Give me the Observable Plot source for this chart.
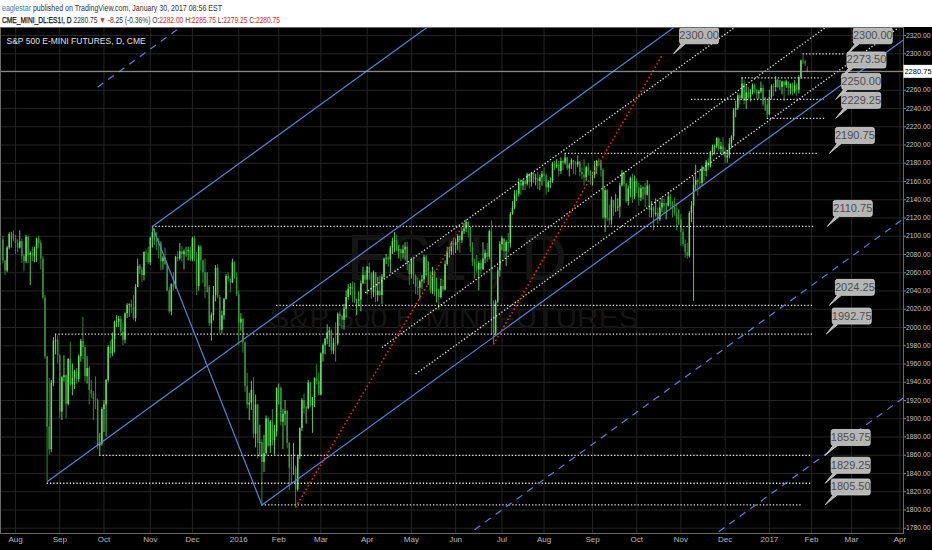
<!DOCTYPE html>
<html>
<head>
<meta charset="utf-8">
<script src="https://cdn.jsdelivr.net/npm/d3@7"></script>
<script src="https://cdn.jsdelivr.net/npm/@observablehq/plot@0.6"></script>
<style>
  body { margin: 0; background: #fff; width: 932px; height: 550px; overflow: hidden; }
  #head {
    height: 27px; box-sizing: border-box; padding: 2px 0 0 2px; white-space: nowrap;
    font-family: 'Liberation Sans', Arial, sans-serif; font-size: 8.5px; line-height: 12px; color: #333;
  }
  #head div { width: max-content; transform-origin: 0 0; }
  #head .who { color: #2f7bc5; }
  #head .red { color: #d9262b; }
  #head .sym { color: #111; -webkit-text-stroke: 0.25px #111; }
  #chart svg { display: block; }
</style>
</head>
<body>
<div id="head"><div id="line1"></div><div id="line2"></div></div>
<div id="chart"></div>
<script>
// ES1! daily bars, [open, high, low, close]
const jul2015 = [[2096,2100,2070,2073],[2073,2073,2057,2062],[2062,2089,2060,2087],[2087,2104,2085,2102],[2102,2104,2087,2102],[2102,2106,2094,2097]];
const aug2015 = [[2097,2101,2080,2092],[2092,2096,2082,2087],[2087,2106,2086,2094],[2094,2097,2070,2078],[2078,2080,2061,2072],
  [2072,2101,2070,2099],[2099,2100,2070,2079],[2079,2083,2046,2081],[2081,2088,2072,2078],[2078,2088,2071,2086],
  [2086,2098,2071,2097],[2097,2100,2087,2092],[2092,2095,2063,2075],[2075,2078,2030,2032],[2032,2035,1965,1968],
  [1968,1968,1831,1891],[1891,1944,1860,1866],[1866,1942,1863,1939],[1939,1989,1935,1985],[1985,1992,1970,1986],[1986,1991,1960,1969]];
const sep2015 = [[1969,1970,1900,1907],[1907,1946,1898,1945],[1945,1969,1940,1947],[1947,1948,1900,1916],
  [1916,1966,1914,1965],[1965,1984,1935,1937],[1937,1960,1925,1944],[1944,1953,1932,1951],
  [1951,1955,1938,1943],[1943,1970,1940,1968],[1968,1987,1962,1985],[1985,2011,1965,1978],[1978,1980,1940,1946],
  [1946,1968,1938,1955],[1955,1957,1915,1931],[1931,1942,1922,1927],[1927,1930,1898,1921],[1921,1946,1910,1920],
  [1920,1922,1866,1870],[1870,1884,1860,1872],[1872,1912,1870,1910]];
const oct2015 = [[1910,1920,1885,1915],[1915,1943,1880,1942],
  [1942,1980,1940,1978],[1978,1985,1966,1971],[1971,1994,1968,1987],[1987,2007,1972,2005],[2005,2013,2000,2006],
  [2006,2012,2000,2009],[2009,2012,1990,1995],[1995,2005,1980,1986],[1986,2016,1982,2015],[2015,2026,2010,2024],
  [2024,2026,2011,2025],[2025,2030,2015,2022],[2022,2035,2008,2010],[2010,2047,2006,2044],[2044,2075,2044,2067],
  [2067,2069,2058,2063],[2063,2066,2049,2057],[2057,2083,2051,2082],[2082,2085,2071,2081],[2081,2088,2069,2071]];
const nov2015 = [[2071,2099,2068,2098],[2098,2110.75,2087,2104],[2104,2108,2090,2096],[2096,2104,2084,2094],[2094,2098,2075,2093],
  [2093,2094,2062,2072],[2072,2078,2063,2076],[2076,2087,2068,2069],[2069,2070,2039,2040],[2040,2044,2015,2017],
  [2017,2048,2013,2047],[2047,2060,2040,2044],[2044,2078,2042,2077],[2077,2083,2072,2075],[2075,2092,2073,2083],
  [2083,2089,2072,2080],[2080,2085,2063,2083],[2083,2088,2077,2083],[2083,2088,2073,2084],[2084,2088,2072,2074]];
const dec2015 = [[2074,2099,2072,2097],[2097,2100,2072,2075],[2075,2082,2035,2045],[2045,2090,2040,2088],
  [2088,2090,2062,2073],[2073,2074,2048,2060],[2060,2075,2032,2044],[2044,2060,2038,2044],[2044,2046,2001,2004],
  [2004,2016,1985,2013],[2013,2045,2007,2035],[2035,2068,2028,2065],[2065,2069,2031,2033],[2033,2035,1993,1997],
  [1997,2018,1993,2013],[2013,2032,2008,2031],[2031,2058,2030,2056],[2056,2060,2050,2053],
  [2053,2053,2038,2049],[2049,2075,2048,2071],[2071,2072,2053,2055],[2055,2060,2034,2036]];
const jan2016 = [[2036,2040,1980,2005],[2005,2015,1996,2009],[2009,2010,1972,1983],[1983,1984,1929,1935],[1935,1950,1911,1915],
  [1915,1928,1898,1917],[1917,1941,1909,1931],[1931,1945,1878,1883],[1883,1926,1868,1915],[1915,1916,1856,1873],
  [1873,1893,1858,1874],[1874,1877,1804.5,1852],[1852,1882,1841,1862],[1862,1903,1860,1900],
  [1900,1901,1868,1870],[1870,1898,1862,1896],[1896,1910,1870,1876],[1876,1893,1860,1886],[1886,1934,1880,1933]];
const feb2016 = [[1933,1938,1915,1933],[1933,1935,1892,1896],[1896,1910,1866,1905],[1905,1920,1892,1908],[1908,1909,1867,1873],
  [1873,1874,1821,1846],[1846,1858,1828,1845],[1845,1873,1838,1845],[1845,1848,1802,1822],[1822,1860,1820,1858],
  [1858,1890,1855,1889],[1889,1922,1886,1920],[1920,1927,1905,1911],[1911,1913,1894,1911],
  [1911,1942,1910,1939],[1939,1940,1912,1914],[1914,1923,1884,1923],[1923,1945,1912,1944],[1944,1959,1937,1941],[1941,1950,1925,1926]];
const mar2016 = [[1926,1972,1925,1971],[1971,1982,1962,1980],[1980,1988,1970,1987],[1987,2003,1981,1994],
  [1994,2000,1978,1996],[1996,1998,1970,1974],[1974,1988,1970,1983],[1983,2005,1962,1982],[1982,2016,1980,2014],
  [2014,2017,2001,2012],[2012,2013,1998,2008],[2008,2025,1997,2020],[2020,2040,2010,2033],[2033,2047,2030,2042],
  [2042,2048,2035,2044],[2044,2050,2027,2042],[2042,2049,2026,2029],[2029,2031,2013,2029],
  [2029,2039,2023,2030],[2030,2051,2017,2048],[2048,2066,2047,2057],[2057,2062,2047,2052]];
const apr2016 = [[2052,2067,2036,2066],
  [2066,2070,2052,2059],[2059,2060,2031,2038],[2038,2062,2033,2060],[2060,2060,2027,2035],[2035,2055,2028,2040],
  [2040,2056,2034,2035],[2035,2058,2025,2055],[2055,2076,2053,2075],[2075,2080,2069,2076],[2076,2078,2066,2074],
  [2074,2089,2059,2087],[2087,2098,2080,2094],[2094,2104,2082,2095],[2095,2101,2083,2084],[2084,2090,2075,2085],
  [2085,2086,2072,2081],[2081,2090,2075,2085],[2085,2093,2073,2088],[2088,2093,2062,2069],[2069,2071,2046,2058]];
const may2016 = [[2058,2076,2053,2074],[2074,2075,2047,2056],[2056,2058,2036,2044],[2044,2054,2035,2043],[2043,2052,2030,2050],
  [2050,2057,2042,2052],[2052,2079,2048,2077],[2077,2079,2055,2057],[2057,2072,2046,2057],[2057,2061,2037,2040],
  [2040,2066,2036,2060],[2060,2062,2034,2040],[2040,2054,2027,2041],[2041,2042,2019,2033],[2033,2053,2031,2045],
  [2045,2052,2039,2041],[2041,2073,2040,2069],[2069,2088,2067,2083],[2083,2088,2076,2083],[2083,2094,2079,2092],
  [2092,2098,2079,2090]];
const jun2016 = [[2090,2097,2081,2093],[2093,2101,2084,2100],[2100,2101,2081,2095],
  [2095,2108,2092,2105],[2105,2114,2102,2108],[2108,2118,2104,2115],[2115,2116,2098,2110],[2110,2111,2082,2088],
  [2088,2093,2067,2071],[2071,2075,2053,2067],[2067,2079,2059,2063],[2063,2072,2040,2070],[2070,2074,2058,2063],
  [2063,2093,2063,2075],[2075,2085,2070,2081],[2081,2092,2071,2077],[2077,2107,2074,2105],[2105,2117,1991,2025],
  [2025,2029,1981,1993],[1993,2030,1990,2028],[2028,2066,2026,2062],[2062,2094,2055,2091]];
const jul2016 = [[2091,2100,2084,2097],
  [2097,2097,2075,2083],[2083,2095,2067,2093],[2093,2103,2082,2092],[2092,2126,2087,2124],
  [2124,2138,2123,2131],[2131,2150,2129,2146],[2146,2150,2138,2146],[2146,2163,2143,2158],[2158,2162,2145,2155],
  [2155,2162,2150,2160],[2160,2161,2150,2157],[2157,2169,2155,2167],[2167,2169,2152,2159],[2159,2170,2154,2169],
  [2169,2170,2158,2162],[2162,2168,2155,2163],[2163,2170,2151,2160],[2160,2167,2150,2164],[2164,2171,2155,2168]];
const aug2016 = [[2168,2175,2160,2166],[2166,2168,2145,2153],[2153,2161,2148,2159],[2159,2164,2152,2160],[2160,2181,2158,2179],
  [2179,2182,2172,2176],[2176,2184,2174,2178],[2178,2182,2165,2171],[2171,2186,2168,2182],[2182,2183,2172,2180],
  [2180,2190.75,2178,2186],[2186,2186,2172,2174],[2174,2180,2165,2178],[2178,2185,2173,2183],[2183,2183,2168,2180],
  [2180,2182,2167,2178],[2178,2188,2175,2181],[2181,2182,2165,2170],[2170,2175,2162,2167],[2167,2184,2155,2164],
  [2164,2177,2160,2175],[2175,2180,2166,2171],[2171,2172,2156,2166]];
const sep2016 = [[2166,2170,2155,2167],[2167,2182,2163,2176],
  [2176,2183,2168,2182],[2182,2185,2176,2181],[2181,2183,2165,2172],[2172,2174,2118,2120],
  [2120,2152,2104,2150],[2150,2151,2116,2119],[2119,2134,2112,2117],[2117,2143,2112,2139],[2139,2139,2122,2131],
  [2131,2146,2126,2131],[2131,2141,2127,2132],[2132,2158,2120,2155],[2155,2172,2154,2169],[2169,2170,2154,2157],
  [2157,2158,2136,2138],[2138,2155,2133,2152],[2152,2165,2142,2163],[2163,2168,2136,2143],[2143,2166,2140,2160]];
const oct2016 = [[2160,2163,2147,2153],[2153,2158,2133,2142],[2142,2156,2138,2152],[2152,2154,2140,2153],[2153,2158,2131,2145],
  [2145,2161,2144,2155],[2155,2157,2120,2128],[2128,2138,2120,2131],[2131,2133,2106,2124],[2124,2141,2121,2125],
  [2125,2131,2113,2118],[2118,2138,2116,2131],[2131,2142,2126,2136],[2136,2141,2124,2133],[2133,2136,2118,2133],
  [2133,2148,2132,2143],[2143,2146,2130,2135],[2135,2138,2120,2131],[2131,2142,2122,2125],[2125,2136,2106,2118],
  [2118,2129,2112,2118]];
const nov2016 = [[2118,2124,2089,2104],[2104,2108,2088,2091],[2091,2096,2076,2082],[2082,2092,2075,2078],
  [2078,2127,2076,2125],[2125,2138,2115,2133],[2133,2165,2028.5,2156],[2156,2178,2150,2161],[2161,2163,2144,2159],
  [2159,2172,2151,2158],[2158,2177,2155,2174],[2174,2176,2160,2171],[2171,2183,2165,2181],[2181,2185,2172,2176],
  [2176,2193,2175,2192],[2192,2200,2188,2197],[2197,2200,2189,2198],[2198,2208,2196,2207],
  [2207,2208,2193,2195],[2195,2203,2190,2198],[2198,2208,2189,2192]];
const dec2016 = [[2192,2197,2180,2186],[2186,2194,2180,2188],
  [2188,2207,2185,2201],[2201,2210,2196,2209],[2209,2240,2205,2238],[2238,2248,2230,2240],[2240,2256,2238,2254],
  [2254,2256,2244,2251],[2251,2273.5,2250,2267],[2267,2271,2244,2248],[2248,2266,2239,2257],[2257,2263,2250,2252],
  [2252,2261,2247,2257],[2257,2267,2255,2265],[2265,2267,2256,2260],[2260,2261,2250,2256],[2256,2260,2250,2258],
  [2258,2269,2256,2262],[2262,2266,2242,2244],[2244,2252,2237,2244],[2244,2250,2229.25,2233]];
const jan2017 = [[2233,2260,2232,2252],[2252,2266,2250,2264],[2264,2267,2253,2263],[2263,2275,2258,2271],
  [2271,2272,2262,2263],[2263,2271,2260,2263],[2263,2270,2255,2269],[2269,2270,2248,2265],[2265,2271,2262,2269],
  [2269,2269,2254,2262],[2262,2267,2255,2266],[2266,2268,2254,2258],[2258,2271,2256,2265],
  [2265,2267,2253,2260],[2260,2276,2256,2274],[2274,2293,2272,2292],[2292,2298,2288,2291],[2291,2293,2286,2289],
  [2282,2285.75,2279.25,2280.75]];

// month label shown where each month's first bar sits
const monthly = [
  [null, jul2015], ["Aug", aug2015], ["Sep", sep2015], ["Oct", oct2015], ["Nov", nov2015], ["Dec", dec2015],
  ["2016", jan2016], ["Feb", feb2016], ["Mar", mar2016], ["Apr", apr2016], ["May", may2016], ["Jun", jun2016],
  ["Jul", jul2016], ["Aug", aug2016], ["Sep", sep2016], ["Oct", oct2016], ["Nov", nov2016], ["Dec", dec2016],
  ["2017", jan2017]
];
// empty space on the right: trading days until each later month label
const ahead = [["Feb", 1], ["Mar", 19], ["Apr", 23]];

const priceTicks = d3.range(1780, 2321, 20);

// horizontal dotted levels and their callouts (bar index where they start / end / point)
const levelPrices = [2300, 2273.5, 2250, 2229.25, 2190.75, 2110.75, 2024.25, 1992.75, 1859.75, 1829.25, 1805.5];
const levelFrom   = [380, 351, 327, 363, 267, 71, 130, 25, 46, 21, 123];
const levelTo     = [400, 389, 390, 391, 387, 386, 384.5, 385, 384.5, 384, 380];
const calloutAt   = [401, 398, 395.5, 395.5, 392.5, 391.5, 392.5, 391, 390.5, 390.5, 390.5];
const extraCallout = [[318.5, 2300]];

// pitchfork pivots [bar, price]: handle, upper, lower
const forkPivots = [[21, 1831], [71, 2110.75], [123, 1805.5]];
// other trend lines [bar1, price1, bar2, price2]
const whiteLines = [[172, 2038, 350, 2333], [180, 1978, 392, 2331], [196, 1949, 425, 2328]];
const redLines = [[139, 1803, 220, 2118], [233, 1981.5, 313, 2298]];

// ---- build tables ----
const bars = [];
const monthTicks = [];
for (const [label, rows] of monthly) {
  if (label) monthTicks.push({i: bars.length, label});
  for (const [o, h, l, c] of rows) bars.push({i: bars.length, o, h, l, c});
}
let n = bars.length;
for (const [label, days] of ahead) { n += days; monthTicks.push({i: n, label}); }
const tickLabel = new Map(monthTicks.map(d => [d.i, d.label]));

const levels = levelPrices.map((p, k) => ({p, from: levelFrom[k], to: levelTo[k]}));
const callouts = levelPrices.map((p, k) => ({i: calloutAt[k], p}))
  .concat(extraCallout.map(([i, p]) => ({i, p})));

const [C, A, B] = forkPivots;
const M = [(A[0] + B[0]) / 2, (A[1] + B[1]) / 2];
const slope = (M[1] - C[1]) / (M[0] - C[0]);
const far = 440;
const ray = (p) => ({x1: p[0], y1: p[1], x2: far, y2: p[1] + slope * (far - p[0])});
const forkSolid = [ray(C), ray(A), ray(B), {x1: A[0], y1: A[1], x2: B[0], y2: B[1]}];
const step = [A[0] - M[0], A[1] - M[1]];
const forkDashed = [
  ray([A[0] + step[0], A[1] + step[1]]),
  ray([B[0] - step[0], B[1] - step[1]]),
  ray([B[0] - 2 * step[0], B[1] - 2 * step[1]])
];
const toLink = ([x1, y1, x2, y2]) => ({x1, y1, x2, y2});

const last = bars[bars.length - 1], prev = bars[bars.length - 2];
// the price tag hides the tick label under it
const labelTicks = priceTicks.filter(t => Math.abs(t - last.c) > 8);

// ---- header ----
const chg = last.c - prev.c;
document.getElementById("line1").innerHTML =
  `<span class="who">eaglestar</span> published on TradingView.com, January 30, 2017 08:56 EST`;
document.getElementById("line2").innerHTML =
  `<span class="sym">CME_MINI_DL:ES1!, D</span> ${last.c.toFixed(2)} <span class="red">▼</span> ${chg.toFixed(2)} (${(chg / prev.c * 100).toFixed(2)}%) ` +
  `O:<span class="red">${last.o.toFixed(2)}</span> H:<span class="red">${last.h.toFixed(2)}</span> ` +
  `L:<span class="red">${last.l.toFixed(2)}</span> C:<span class="red">${last.c.toFixed(2)}</span>`;
[["line1", 220], ["line2", 278]].forEach(([id, w]) => {
  const el = document.getElementById(id);
  el.style.transform = `scaleX(${w / el.getBoundingClientRect().width})`;
});

// ---- shapes ----
const calloutShape = {
  draw(ctx) {
    const x0 = 6, x1 = 45, y0 = -26, y1 = -10, r = 2;
    ctx.moveTo(0, 0);
    ctx.lineTo(12, y1);
    ctx.lineTo(x1 - r, y1); ctx.arcTo(x1, y1, x1, y1 - r, r);
    ctx.lineTo(x1, y0 + r); ctx.arcTo(x1, y0, x1 - r, y0, r);
    ctx.lineTo(x0 + r, y0); ctx.arcTo(x0, y0, x0, y0 + r, r);
    ctx.lineTo(x0, y1 - r); ctx.arcTo(x0, y1, x0 + r, y1, r);
    ctx.closePath();
  }
};
const priceTag = { draw(ctx) { ctx.rect(0, -6.5, 29, 13); } };

const up = "#5fe25a", down = "#2e9a34", blue = "#5486d3";

const chart = Plot.plot({
  width: 932,
  height: 523,
  marginLeft: 0,
  marginRight: 29,
  marginTop: 0,
  marginBottom: 17,
  style: {background: "#000", color: "#bcbcbc", fontFamily: "'Liberation Sans', Arial, sans-serif"},
  x: {domain: [-1.14, 427.7], axis: null},
  y: {domain: [1774.2, 2328.8], axis: null},
  marks: [
    Plot.gridX(monthTicks.map(d => d.i), {stroke: "#242424", strokeOpacity: 1}),
    Plot.gridY(priceTicks, {stroke: "#242424", strokeOpacity: 1}),
    Plot.text(["ES1!, D"], {text: d => d, frameAnchor: "middle", dx: 5, dy: -21, fontSize: 64, fill: "#151515", ariaLabel: "mark1"}),
    Plot.text(["S&P 500 E-MINI FUTURES"], {text: d => d, frameAnchor: "middle", dx: 2, dy: 38, fontSize: 30, fill: "#151515", ariaLabel: "mark2"}),
    Plot.text(["S&P 500 E-MINI FUTURES, D, CME"], {text: d => d, frameAnchor: "top-left", dx: 6, dy: 10, fontSize: 8.5, fill: "#e2e2e2", ariaLabel: "title"}),

    // candles
    Plot.ruleX(bars, {x: "i", y1: "l", y2: "h", stroke: d => d.c >= d.o ? up : down, strokeWidth: 0.9}),
    Plot.ruleX(bars, {x: "i", y1: "o", y2: "c", stroke: d => d.c >= d.o ? up : down, strokeWidth: 1.5}),

    // drawings
    Plot.ruleY(levels, {y: "p", x1: "from", x2: "to", stroke: "#e6e6e6", strokeWidth: 1.3, strokeDasharray: "1.3 2"}),
    Plot.link(forkSolid, {x1: "x1", y1: "y1", x2: "x2", y2: "y2", stroke: blue, strokeWidth: 1.2, clip: true}),
    Plot.link(forkDashed, {x1: "x1", y1: "y1", x2: "x2", y2: "y2", stroke: blue, strokeWidth: 1.2, strokeDasharray: "7 6", clip: true}),
    Plot.link(whiteLines.map(toLink), {x1: "x1", y1: "y1", x2: "x2", y2: "y2", stroke: "#e6e6e6", strokeWidth: 1.3, strokeDasharray: "1.3 2", clip: true}),
    Plot.link(redLines.map(toLink), {x1: "x1", y1: "y1", x2: "x2", y2: "y2", stroke: "#e02828", strokeWidth: 1.6, strokeDasharray: "1.6 2.4", clip: true}),
    Plot.ruleY([last.c], {stroke: "#a0a0a0", strokeWidth: 1}),

    Plot.dot(callouts, {x: "i", y: "p", symbol: calloutShape, fill: "#b6b6b6", stroke: "#d2d2d2", strokeWidth: 0.8}),
    Plot.text(callouts, {x: "i", y: "p", text: d => d.p.toFixed(2), dx: 25.5, dy: -18, fontSize: 11, fill: "#4d4d4d", ariaLabel: "callout"}),

    // axes
    Plot.axisX(monthTicks.map(d => d.i), {tickFormat: i => tickLabel.get(i), tickSize: 0, tickPadding: 3, fontSize: 8, fill: "#bcbcbc", label: null, ariaLabel: "xlab"}),
    Plot.axisY(labelTicks, {anchor: "right", tickFormat: d => d.toFixed(2), tickSize: 2, tickPadding: 0.5, fontSize: 6.8, fill: "#c4c4c4", stroke: "#888", label: null, ariaLabel: "ylab"}),
    Plot.frame({stroke: "#6a6a6a"}),
    Plot.dot([last.c], {y: d => d, frameAnchor: "right", symbol: priceTag, fill: "#fff", stroke: "none"}),
    Plot.text([last.c], {y: d => d, frameAnchor: "right", text: d => d.toFixed(2), dx: 14.5, textAnchor: "middle", fontSize: 7.5, fill: "#000", ariaLabel: "tag"})
  ]
});

document.getElementById("chart").append(chart);

// condensed lettering like the original: squeeze text to a narrow width
const squeeze = (label, fit) => chart.querySelectorAll(`g[aria-label="${label}"] text`).forEach(t => {
  t.setAttribute("textLength", fit(t.getComputedTextLength()));
  t.setAttribute("lengthAdjust", "spacingAndGlyphs");
});
squeeze("xlab", w => w * 0.8);
squeeze("callout", w => w * 0.82);
squeeze("title", () => 93);
squeeze("mark1", () => 176);
squeeze("mark2", () => 300);
</script>
</body>
</html>
